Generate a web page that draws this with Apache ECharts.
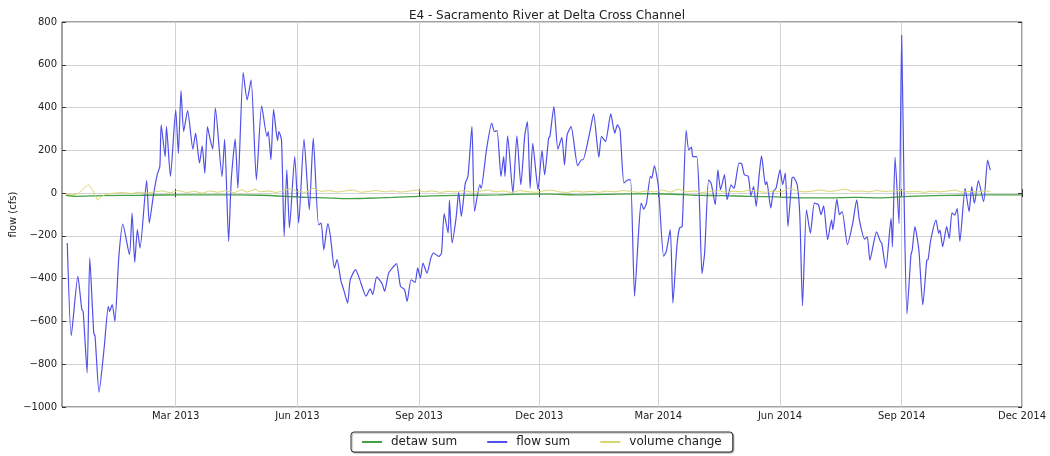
<!DOCTYPE html>
<html>
<head>
<meta charset="utf-8">
<script src="https://cdn.jsdelivr.net/npm/echarts@6/dist/echarts.min.js"></script>
<style>
  html, body { margin: 0; padding: 0; background: #ffffff; }
  #chart { width: 1050px; height: 456px; }
</style>
</head>
<body>
<div id="chart"></div>
<script>
// Record days are counted from this date (UTC).
const recordStart = [2012, 11, 5];
const axisEndDate = [2014, 11, 1];

// Quarterly tick dates on the time axis.
const tickDates = [
  [2013, 2, 1], [2013, 5, 1], [2013, 8, 1], [2013, 11, 1],
  [2014, 2, 1], [2014, 5, 1], [2014, 8, 1], [2014, 11, 1]
];
const monthNames = ['Jan', 'Feb', 'Mar', 'Apr', 'May', 'Jun', 'Jul', 'Aug', 'Sep', 'Oct', 'Nov', 'Dec'];
const yTicks = { min: -1000, max: 800, step: 200 };

// flow sum (cfs)
const flowDay = [
  4, 7, 12, 15, 16, 19, 21, 24, 25, 28, 32, 35, 36, 38, 40, 43, 46, 51, 53, 55,
  57, 59, 64, 66, 69, 72, 74, 75, 78, 79, 82, 86, 88, 90, 92, 95, 99, 101, 104, 106,
  108, 110, 112, 114, 116, 121, 123, 126, 128, 131, 133, 137, 140, 143, 147, 151, 155, 156, 158, 160,
  163, 164, 166, 168, 170, 172, 176, 179, 183, 187, 190, 194, 196, 198, 201, 203, 206, 208, 211, 213,
  216, 218, 222, 225, 230, 233, 235, 238, 242, 244, 247, 251, 253, 256, 259, 261, 264, 267, 269, 271,
  273, 276, 279, 281, 285, 287, 289, 292, 293, 295, 298, 300, 302, 305, 307, 310, 312, 316, 317, 321,
  325, 327, 329, 332, 334, 335, 337, 341, 344, 347, 350, 352, 354, 356, 360, 363, 365, 368, 369, 372,
  375, 378, 380, 382, 385, 390, 393, 394, 399, 402, 406, 408, 411, 415, 418, 420, 422, 425, 428, 430,
  433, 436, 438, 440, 442, 445, 446, 448, 451, 455, 457, 460, 462, 465, 467, 469, 472, 474, 476, 477,
  480, 482, 484, 486, 489, 491, 494, 496, 498, 501, 503, 506, 508, 509, 512, 514, 516, 519, 521, 523,
  525, 527, 529, 532, 533, 536, 538, 540, 543, 545, 547, 549, 552, 553, 556, 558, 560, 563, 566, 569,
  572, 574, 576, 579, 582, 583, 586, 588, 590, 594, 598, 601, 603, 607, 609, 611, 616, 619, 620, 623,
  627, 628, 630, 633, 635, 637, 639, 642, 643, 645, 648, 651, 654, 655, 657, 661, 663, 664, 666, 669,
  671, 673, 675, 677, 679, 683, 686, 688, 690, 693, 697, 700, 702
];
const flowSum = [
  -233, -666, -389, -545, -552, -840, -303, -654, -669, -931, -716, -529, -553, -521, -599, -296, -145, -288, -93, -324,
  -171, -257, 59, -140, -16, 86, 125, 319, 171, 311, 78, 389, 187, 479, 288, 386, 205, 280, 140, 221,
  93, 311, 252, 205, 397, 78, 252, -226, 62, 252, 23, 563, 436, 529, 62, 408, 265, 288, 156, 392,
  246, 288, 249, -202, 109, -163, 171, -140, 252, -78, 257, -148, -140, -265, -143, -202, -350, -311, -412, -451,
  -514, -405, -358, -401, -482, -448, -474, -392, -423, -459, -374, -342, -330, -436, -451, -506, -405, -417, -350, -397,
  -327, -374, -303, -280, -296, -280, -96, -187, -34, -233, -117, 3, -109, 47, 78, 311, -86, 39, 23, 202,
  327, 288, 292, 78, 171, 78, 268, 0, 268, 39, 272, 334, 23, 233, 16, 200, 86, 257, 265, 405,
  205, 261, 132, 272, 311, 128, 156, 156, 280, 370, 168, 265, 241, 370, 280, 319, 296, 47, 62, 62,
  -482, -187, -47, -75, -47, 78, 70, 128, 31, -296, -272, -171, -514, -249, -163, -156, 292, 202, 215, 171,
  171, -31, -376, -280, 62, 44, -54, 109, 16, 86, -31, 39, 23, 39, 140, 137, 86, 78, -12, 31,
  -62, 70, 174, 39, 54, -70, 8, 23, 109, 39, 93, -156, 70, 75, 39, -109, -526, -78, -187, -47,
  -54, -101, -59, -218, -125, -171, -28, -101, -86, -241, -140, -31, -125, -215, -204, -313, -181, -227, -235, -352,
  -118, -251, 167, -142, 738, -79, -565, -289, -266, -157, -266, -523, -313, -310, -219, -126, -188, -173, -251, -157,
  -212, -92, -103, -72, -227, 22, -87, 30, -48, 58, -40, 154, 107
];

// detaw sum (cfs)
const detawDay = [
  3, 10, 30, 60, 90, 120, 150, 170, 185, 200, 215, 230, 250, 270, 290, 310, 330, 350, 370, 390,
  420, 450, 480, 500, 520, 540, 560, 580, 600, 620, 640, 660, 680, 700, 726
];
const detawSum = [
  -10, -15, -12, -10, -8, -8, -10, -15, -20, -22, -26, -24, -20, -15, -12, -10, -8, -5, -5, -8,
  -5, -3, -10, -12, -15, -18, -22, -22, -20, -22, -15, -12, -10, -8, -8
];

// volume change (cfs)
const volumeDay = [
  2, 8, 13, 17, 20, 23, 25, 27, 30, 34, 40, 46, 52, 58, 64, 70, 76, 82, 88, 94,
  100, 106, 112, 118, 124, 130, 136, 140, 146, 150, 156, 162, 168, 174, 178, 184, 190, 196, 202, 208,
  214, 220, 226, 232, 238, 244, 250, 256, 262, 268, 274, 280, 286, 292, 298, 304, 310, 316, 322, 328,
  334, 340, 346, 352, 358, 364, 370, 376, 382, 388, 394, 400, 406, 412, 418, 424, 430, 436, 442, 448,
  454, 460, 466, 472, 478, 484, 490, 496, 502, 508, 514, 520, 526, 532, 538, 544, 550, 556, 562, 568,
  574, 580, 586, 592, 598, 604, 610, 616, 622, 628, 634, 640, 646, 652, 658, 664, 670, 676, 680, 686,
  692, 698, 702
];
const volumeChange = [
  -5, -8, 0, 25, 38, 15, -10, -32, -15, -5, 0, 3, -2, 4, 0, 6, 10, 2, 12, 3,
  8, 0, 10, 4, 12, 2, 15, 5, 18, 6, 10, 3, 14, 20, 8, 4, 22, 8, 12, 5,
  10, 14, 4, 8, 12, 6, 10, 5, 9, 14, 6, 10, 4, 8, 6, 12, 5, 9, 15, 6,
  10, 3, 12, 7, 4, 10, 14, 6, 3, 10, 5, 8, 4, 9, 6, 12, 8, 4, 10, 6,
  14, 5, 18, 6, 10, 3, 8, 12, 4, 9, 6, 14, 8, 4, 10, 6, 22, 10, 6, 10,
  14, 8, 12, 18, 8, 10, 6, 12, 8, 10, 12, 6, 8, 4, 9, 6, 10, 14, 5, 8,
  6, 10, 8
];

const DAY_MS = 86400000;
const utc = (d) => Date.UTC(d[0], d[1], d[2]);
const startMs = utc(recordStart);
const pairs = (days, vals) => days.map((d, i) => [startMs + d * DAY_MS, vals[i]]);
const fmtNum = (v) => (v < 0 ? '\u2212' + Math.abs(v) : String(v));
const fmtMonth = (v) => { const d = new Date(v); return monthNames[d.getUTCMonth()] + ' ' + d.getUTCFullYear(); };
const fontFamily = '"DejaVu Sans", sans-serif';
const tickValues = tickDates.map(utc);

// Time runs along a numeric axis in epoch milliseconds, ticked at quarter starts.
const xAxisBase = {
  type: 'value',
  min: startMs,
  max: utc(axisEndDate),
  scale: true,
  axisLine: { show: false },
  axisTick: { show: true, inside: true, length: 4, customValues: tickValues, lineStyle: { color: '#333' } }
};

const chart = echarts.init(document.getElementById('chart'), null, { renderer: 'canvas' });
chart.setOption({
  animation: false,
  backgroundColor: '#ffffff',
  title: {
    text: 'E4 - Sacramento River at Delta Cross Channel',
    left: 542, top: 5, textAlign: 'center',
    textStyle: { fontFamily, fontSize: 12, fontWeight: 'normal', color: '#222' }
  },
  grid: {
    left: 62, right: 28, top: 22, bottom: 49,
    outerBoundsMode: 'none', containLabel: false,
    show: true, borderColor: '#444', borderWidth: 1, backgroundColor: '#ffffff'
  },
  legend: {
    left: 351, top: 432,
    padding: [4, 11, 4, 11],
    itemGap: 30, itemWidth: 20, itemHeight: 2, icon: 'rect',
    borderColor: '#333', borderWidth: 1, borderRadius: 3,
    backgroundColor: '#ffffff',
    shadowColor: 'rgba(0,0,0,0.35)', shadowOffsetX: 1, shadowOffsetY: 1, shadowBlur: 1,
    textStyle: { fontFamily, fontSize: 12, color: '#222', padding: [0, 0, 0, 4] },
    data: ['detaw sum', 'flow sum', 'volume change']
  },
  xAxis: [
    Object.assign({}, xAxisBase, {
      position: 'bottom',
      splitLine: { show: true, lineStyle: { color: '#d2d2d2', width: 1 } },
      axisLabel: {
        customValues: tickValues, margin: 4, showMaxLabel: true,
        fontFamily, fontSize: 10, color: '#222',
        formatter: fmtMonth
      }
    }),
    Object.assign({}, xAxisBase, {
      position: 'top',
      splitLine: { show: false },
      axisLabel: { show: false }
    })
  ],
  yAxis: [
    {
      type: 'value', position: 'left',
      min: yTicks.min, max: yTicks.max, interval: yTicks.step,
      name: 'flow (cfs)', nameLocation: 'middle', nameGap: 44, nameMoveOverlap: false,
      nameTextStyle: { fontFamily, fontSize: 10, color: '#222' },
      axisLine: { show: false },
      axisTick: { show: true, inside: true, length: 4, lineStyle: { color: '#333' } },
      splitLine: { show: true, lineStyle: { color: '#d2d2d2', width: 1 } },
      axisLabel: { fontFamily, fontSize: 10, color: '#222', margin: 5, formatter: fmtNum }
    },
    {
      type: 'value', position: 'right',
      min: yTicks.min, max: yTicks.max, interval: yTicks.step,
      axisLine: { show: false },
      axisTick: { show: true, inside: true, length: 4, lineStyle: { color: '#333' } },
      splitLine: { show: false },
      axisLabel: { show: false }
    }
  ],
  series: [
    {
      name: 'detaw sum', type: 'line', showSymbol: false, smooth: 0.2,
      data: pairs(detawDay, detawSum),
      itemStyle: { color: '#45a045' },
      lineStyle: { color: '#45a045', width: 1.3 }
    },
    {
      name: 'flow sum', type: 'line', showSymbol: false, smooth: 0.2,
      data: pairs(flowDay, flowSum),
      itemStyle: { color: '#5050e8' },
      lineStyle: { color: '#5050e8', width: 1.2 }
    },
    {
      name: 'volume change', type: 'line', showSymbol: false, smooth: 0.2,
      data: pairs(volumeDay, volumeChange),
      itemStyle: { color: '#d6d66a' },
      lineStyle: { color: '#d6d66a', width: 1 }
    }
  ]
});
</script>
</body>
</html>
